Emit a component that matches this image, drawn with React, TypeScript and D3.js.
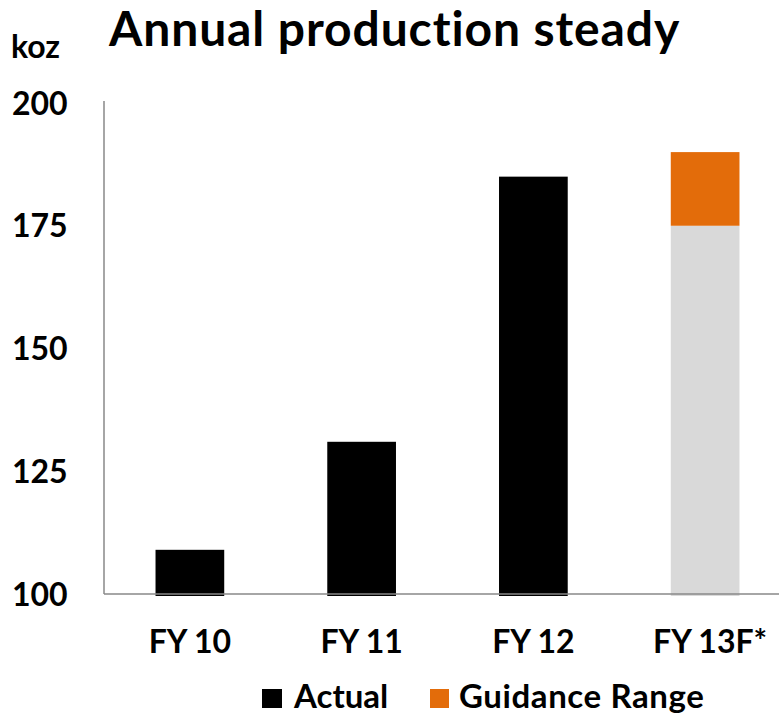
import React from "react";
import * as d3 from "d3";

const categories = ["FY 10", "FY 11", "FY 12", "FY 13F*"];
const actual = [109, 131, 185, 0];
const guidanceLow = [0, 0, 0, 175];
const guidanceHigh = [0, 0, 0, 190];
const yTicks = [100, 125, 150, 175, 200];

const W = 779, H = 715;
const font = "Lato, 'Open Sans', sans-serif";

export default function App() {
  const x = d3.scaleBand().domain(categories).range([104, 791]).paddingInner(0.6).paddingOuter(0.3);
  const y = d3.scaleLinear().domain([100, 200]).range([594, 103]);

  return (
    <div style={{ position: "absolute", left: 0, top: 0 }}>
      <svg width={W} height={H} style={{ display: "block" }} fontFamily={font} fontWeight={700}>
        <text x={109} y={46} fontSize={48} letterSpacing={0.9} fill="#000">Annual production steady</text>
        <text x={11} y={58} fontSize={32} fill="#000">koz</text>
        {yTicks.map((t) => (
          <text key={t} x={12} y={y(t)} dy="0.36em" fontSize={32} fill="#000">{t}</text>
        ))}
        {categories.map((c, i) => (
          <g key={c}>
            {actual[i] > 0 && (
              <rect x={x(c)} y={y(actual[i])} width={x.bandwidth()} height={y(100) - y(actual[i]) + 2} fill="#000" />
            )}
            {guidanceHigh[i] > 0 && (
              <>
                <rect x={x(c)} y={y(guidanceLow[i])} width={x.bandwidth()} height={y(100) - y(guidanceLow[i]) + 2} fill="#d9d9d9" />
                <rect x={x(c)} y={y(guidanceHigh[i])} width={x.bandwidth()} height={y(guidanceLow[i]) - y(guidanceHigh[i])} fill="#e36c0a" />
              </>
            )}
            <text x={(x(c) as number) + x.bandwidth() / 2 + (i === 3 ? 5 : 0)} y={653} textAnchor="middle" fontSize={32} fill="#000">{c}</text>
          </g>
        ))}
        <line x1={104} x2={W} y1={y(100)} y2={y(100)} stroke="#888" strokeWidth={1.5} />
        <line x1={104} x2={104} y1={101} y2={y(100)} stroke="#888" strokeWidth={1.5} />
        <rect x={262} y={689} width={20} height={19} fill="#000" />
        <text x={294} y={708} fontSize={33} fill="#000">Actual</text>
        <rect x={430} y={689} width={19} height={19} fill="#e36c0a" />
        <text x={459} y={708} fontSize={33} letterSpacing={0.6} fill="#000">Guidance Range</text>
      </svg>
    </div>
  );
}
